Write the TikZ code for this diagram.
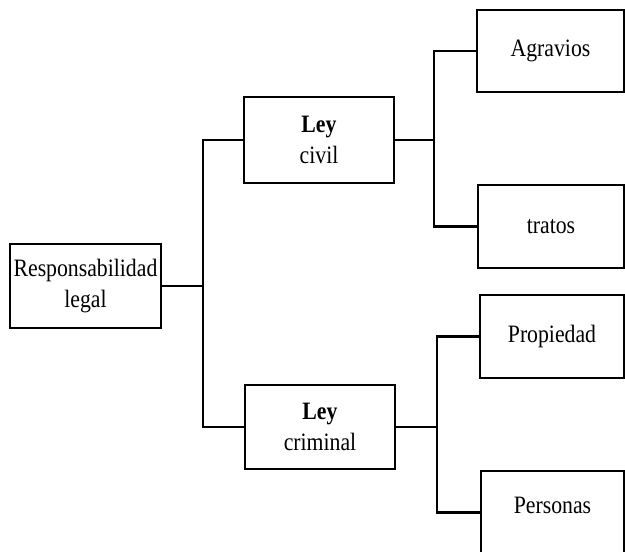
\documentclass[tikz,border=0pt]{standalone}
\usepackage{fontspec}
\setmainfont[FakeStretch=0.87]{Liberation Serif}
\begin{document}
\begin{tikzpicture}[x=1pt,y=-1pt,
  box/.style={draw, line width=2.8pt, inner sep=0pt, align=center,
    font=\fontsize{25}{31}\selectfont},
  link/.style={line width=2.2pt}]
\useasboundingbox (0,0) rectangle (625,552);
\clip (0,0) rectangle (625,552);
\node[box, minimum width=151pt, minimum height=84pt] (resp) at (85.5,286) {Responsabilidad\\legal};
\node[box, minimum width=150pt, minimum height=86pt] (civil) at (319,140) {\textbf{Ley}\\civil};
\node[box, minimum width=150pt, minimum height=84pt] (crim) at (320,427) {\textbf{Ley}\\criminal};
\node[box, minimum width=147pt, minimum height=82pt] (agr) at (550.5,51) {Agravios};
\node[box, minimum width=146pt, minimum height=83pt] (trat) at (551,226.5) {tratos};
\node[box, minimum width=144pt, minimum height=83pt] (prop) at (552,336.5) {Propiedad};
\node[box, minimum width=143pt, minimum height=83pt, text depth=14pt] (pers) at (552.5,512.5) {Personas};
\coordinate (b1) at (203,286);
\coordinate (b2) at (434,140);
\coordinate (b3) at (437,427);
\draw[link] (resp.east) -- (b1);
\draw[link] (civil.west) -| (b1) |- (crim.west);
\draw[link] (civil.east) -- (b2);
\draw[link] (agr.west) -| (b2) |- (trat.west);
\draw[link] (crim.east) -- (b3);
\draw[link] (prop.west) -| (b3) |- (pers.west);
\end{tikzpicture}
\end{document}
